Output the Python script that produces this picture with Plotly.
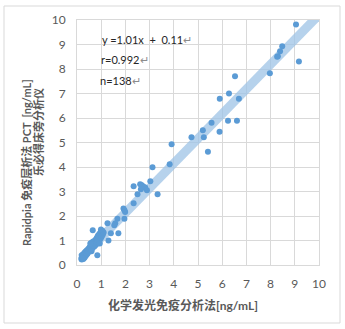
import plotly.graph_objects as go

# Chemiluminescence PCT (x) vs. Rapidpia immunochromatography PCT (y), ng/mL
ref_high = [9.05, 9.17, 8.48, 8.39, 8.30, 8.27, 7.97, 6.53, 6.28, 5.90, 6.69, 6.24, 6.61,
            5.56, 5.20, 4.73, 5.24, 5.89, 5.41, 3.91, 3.83, 3.12, 2.34, 2.61, 2.68, 2.75,
            2.82, 2.64, 2.89, 3.03, 3.33, 2.50, 2.34, 1.92, 1.96, 1.99, 1.67, 1.96, 1.58,
            1.54, 1.26, 0.65, 1.71, 1.40, 1.30, 0.84]
poc_high = [9.82, 8.31, 8.93, 8.72, 8.52, 8.50, 7.83, 7.70, 7.00, 6.79, 6.79, 5.89, 5.89,
            5.81, 5.50, 5.21, 5.21, 5.44, 4.62, 4.93, 4.11, 3.99, 3.21, 3.30, 3.26, 3.19,
            3.16, 3.09, 3.05, 3.42, 2.89, 2.89, 2.52, 2.31, 2.23, 2.16, 1.89, 1.89, 1.70,
            1.62, 1.70, 1.42, 1.30, 1.30, 1.00, 0.40]

ref_low = [0.18, 0.19, 0.20, 0.21, 0.21, 0.22, 0.23, 0.23, 0.24, 0.25, 0.25, 0.26, 0.27,
           0.27, 0.28, 0.29, 0.30, 0.30, 0.31, 0.32, 0.33, 0.33, 0.34, 0.35, 0.36, 0.37,
           0.38, 0.39, 0.40, 0.41, 0.42, 0.43, 0.44, 0.45, 0.20, 0.26, 0.31, 0.36, 0.41,
           0.24,
           0.46, 0.48, 0.49, 0.50, 0.52, 0.53, 0.55, 0.56, 0.57, 0.58, 0.60, 0.61, 0.62,
           0.63, 0.64, 0.66, 0.67, 0.68, 0.69, 0.70, 0.72, 0.73, 0.74, 0.75, 0.77, 0.78,
           0.79, 0.80, 0.55, 0.60,
           0.81, 0.83, 0.84, 0.86, 0.87, 0.88, 0.90, 0.91, 0.92, 0.93, 0.95, 0.96, 0.97,
           0.98, 1.00, 1.01, 1.03, 1.05, 1.07, 1.10, 0.94, 0.99]
poc_low = [0.24, 0.30, 0.22, 0.27, 0.35, 0.31, 0.26, 0.38, 0.33, 0.29, 0.41, 0.36, 0.32,
           0.44, 0.39, 0.35, 0.33, 0.47, 0.40, 0.37, 0.45, 0.52, 0.41, 0.48, 0.43, 0.55,
           0.47, 0.50, 0.58, 0.46, 0.52, 0.61, 0.49, 0.56, 0.40, 0.25, 0.30, 0.37, 0.44,
           0.28,
           0.62, 0.54, 0.68, 0.59, 0.64, 0.72, 0.60, 0.78, 0.66, 0.83, 0.70, 0.92, 0.76,
           0.68, 0.85, 0.79, 0.96, 0.74, 0.88, 0.82, 0.91, 0.78, 1.00, 0.86, 0.94, 0.84,
           1.05, 0.92, 0.88, 0.56,
           1.08, 0.96, 1.14, 1.02, 1.20, 0.92, 1.10, 1.25, 0.99, 1.16, 1.30, 1.06, 1.21,
           1.35, 1.12, 1.27, 1.18, 1.40, 1.24, 1.33, 0.88, 1.45]

ref_vals = ref_high + ref_low
poc_vals = poc_high + poc_low

slope = 1.01
intercept = 0.11
r_value = 0.992
n_samples = len(ref_vals)

fit_x = [min(ref_vals), 10.0]
fit_y = [slope * v + intercept for v in fit_x]

ticks = list(range(0, 11))

FONT = "Lato, 'Noto Sans CJK SC', sans-serif"
GREY = "#595959"
GRID = "#d9d9d9"

fig = go.Figure()
fig.add_trace(go.Scatter(
    x=fit_x, y=fit_y, mode="lines",
    line=dict(color="rgba(157,195,230,0.75)", width=9),
    hoverinfo="skip", showlegend=False,
))
fig.add_trace(go.Scatter(
    x=ref_vals, y=poc_vals, mode="markers",
    marker=dict(color="#5B9BD5", size=6),
    showlegend=False,
))

# plot area: x 77..319 px, y 20..265 px
L, R, T, B = 77, 26, 20, 64
W, H = 345, 329
pw, ph = W - L - R, H - T - B


def px(xp):
    return (xp - L) / pw


def py(yp):
    return (H - B - yp) / ph


axis_common = dict(
    range=[0, 10], tickvals=ticks, showgrid=True, gridcolor=GRID, gridwidth=1,
    zeroline=False, showline=True, mirror=True, linecolor=GRID, linewidth=1,
    ticks="", ticklabelstandoff=8, tickfont=dict(family=FONT, size=12, color=GREY),
    fixedrange=True,
)
fig.update_xaxes(**axis_common)
fig.update_yaxes(**axis_common)

text_font = dict(family=FONT, size=11, color="#262626")
note_lines = [
    (f"y ={slope:.2f}x  +  {intercept:.2f}<span style='color:#8c8c8c'>↵</span>", 100, 39),
    (f"r={r_value:.3f}<span style='color:#8c8c8c'>↵</span>", 99, 60),
    (f"n={n_samples}<span style='color:#8c8c8c'>↵</span>", 98, 80),
]
annotations = []
for txt, xp, yp in note_lines:
    annotations.append(dict(
        text=txt, x=px(xp), y=py(yp), xref="paper", yref="paper",
        xanchor="left", yanchor="middle", showarrow=False, font=text_font,
    ))

title_font = dict(family=FONT, size=11, color=GREY)
annotations.append(dict(
    text="<b>Rapidpia 免疫层析法 PCT  [ng/mL]</b>", x=px(26), y=py(163),
    xref="paper", yref="paper", xanchor="center", yanchor="middle",
    textangle=-90, showarrow=False, font=title_font,
))
annotations.append(dict(
    text="<b>乐必得床旁分析仪</b>", x=px(38), y=py(132),
    xref="paper", yref="paper", xanchor="center", yanchor="middle",
    textangle=-90, showarrow=False, font=title_font,
))
annotations.append(dict(
    text="<b>化学发光免疫分析法[ng/mL]</b>", x=px(183), y=py(305),
    xref="paper", yref="paper", xanchor="center", yanchor="middle",
    showarrow=False, font=dict(family=FONT, size=12, color=GREY),
))

fig.update_layout(
    width=W, height=H,
    margin=dict(l=L, r=R, t=T, b=B, pad=0),
    paper_bgcolor="white", plot_bgcolor="white",
    annotations=annotations,
    shapes=[dict(
        type="rect", xref="paper", yref="paper",
        x0=px(4), x1=px(340), y0=py(323), y1=py(6),
        line=dict(color=GRID, width=1), fillcolor="rgba(0,0,0,0)", layer="below",
    )],
)

fig.write_html("out.html", config={"displayModeBar": False})
